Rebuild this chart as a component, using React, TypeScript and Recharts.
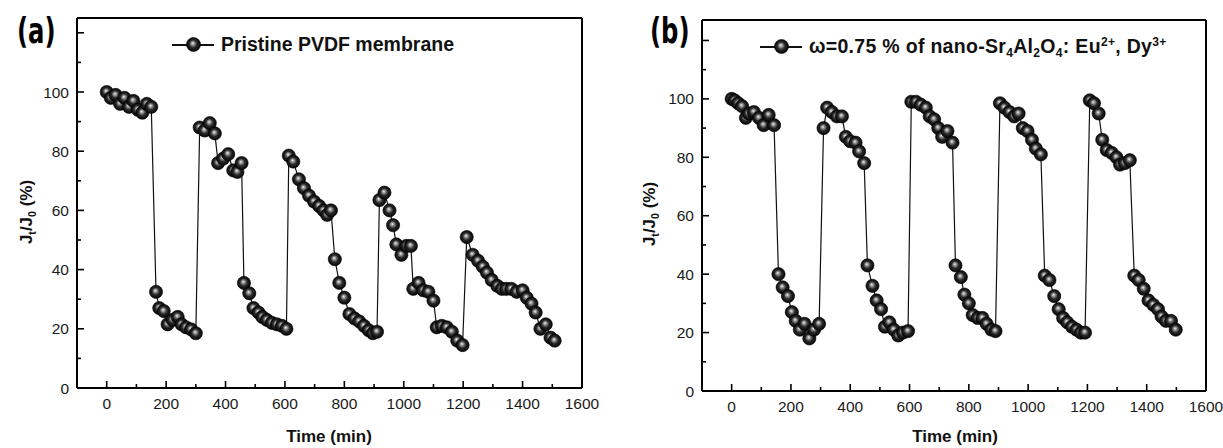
import { Line, LineChart, ReferenceLine, XAxis, YAxis } from "recharts";

// (a) pristine PVDF membrane
const timeA = [
  0, 14, 30, 45, 60, 75, 90, 105, 120, 135, 150,
  166, 177, 192, 205, 222, 239, 252, 267, 284, 300,
  313, 330, 347, 364, 375, 392, 409, 426, 440, 454,
  462, 480, 494, 511, 524, 539, 556, 573, 590, 605,
  613, 628, 647, 664, 681, 698, 715, 730, 742, 755,
  768, 783, 800, 817, 834, 850, 866, 882, 896, 910,
  918, 935, 952, 964, 975, 992, 1009, 1024,
  1032, 1050, 1066, 1083, 1100, 1111, 1128, 1145, 1162, 1180, 1198,
  1212, 1232, 1250, 1266, 1280, 1296, 1315, 1330, 1345, 1362, 1380, 1400, 1414, 1430, 1444, 1460, 1478, 1494, 1508,
];
const fluxA = [
  100, 98, 99, 96, 98, 95, 97, 94, 93, 96, 95,
  32.5, 27, 26, 21.5, 23, 24, 21.5, 20.5, 19.8, 18.5,
  88, 87, 89.5, 86, 76, 77.5, 79, 73.5, 73, 76,
  35.5, 32, 27, 25.5, 24, 23, 22, 21.5, 21, 20,
  78.5, 76.5, 70.5, 67.5, 65, 63, 61.5, 60, 58.5, 60,
  43.5, 35.5, 30.5, 25, 23.5, 22.5, 21, 19.5, 18.5, 19,
  63.5, 66, 60, 55, 48.5, 45, 48, 48,
  33.5, 35.5, 33, 32.5, 29.5, 20.5, 21, 20.5, 19, 16, 14.5,
  51, 45, 43, 41, 39, 36.5, 34.5, 33.5, 33.5, 33.5, 32.5, 33, 30.5, 28.5, 25.5, 20, 21.5, 17, 16,
];

// (b) ω=0.75 % nano-Sr4Al2O4: Eu2+, Dy3+
const timeB = [
  0, 10, 22, 35, 48, 58, 75, 92, 108, 125, 143,
  158, 172, 190, 203, 216, 230, 246, 262, 278, 295,
  310, 322, 338, 355, 372, 385, 400, 418, 430, 447,
  458, 475, 489, 504, 517, 532, 547, 562, 578, 595,
  606, 622, 638, 655, 668, 683, 697, 710, 728, 745,
  755, 773, 785, 800, 813, 830, 846, 860, 876, 890,
  905, 920, 937, 953, 968, 982, 998, 1013, 1026, 1043,
  1056, 1072, 1088, 1103, 1118, 1132, 1148, 1163, 1178, 1192,
  1208, 1222, 1238, 1250, 1265, 1282, 1298, 1310, 1326, 1343,
  1358, 1373, 1390, 1406, 1422, 1438, 1450, 1465, 1482, 1498,
];
const fluxB = [
  100, 99.5, 98.5, 97.5, 93.5, 95, 95.5, 93.5, 91, 94.5, 91,
  40, 35.5, 32.5, 27, 24, 21, 23, 18, 21, 23,
  90, 97, 95.5, 94, 94, 87, 85.5, 85, 82, 78,
  43, 36, 31, 28, 22, 23.5, 21, 19, 20, 20.5,
  99, 99, 98, 97, 94, 93, 90, 87, 89, 85,
  43, 39, 33, 30, 26, 25, 25, 23, 21, 20.5,
  98.5, 97, 95.5, 94, 95, 90, 89, 86, 83, 81,
  39.5, 38, 32.5, 28, 25, 23.5, 22, 21, 20, 20,
  99.5, 98.5, 95, 86, 82.5, 81.5, 80, 77.5, 78, 79,
  39.5, 38, 35, 31, 29.5, 28, 25.5, 24, 24, 21,
];

const xTicks = [0, 100, 200, 300, 400, 500, 600, 700, 800, 900, 1000, 1100, 1200, 1300, 1400, 1500, 1600];
const yTicks = [0, 10, 20, 30, 40, 50, 60, 70, 80, 90, 100, 110, 120];

const FONT = "'Liberation Sans', Arial, Helvetica, sans-serif";

function XTick(props: any) {
  const { x, y, payload } = props;
  const major = payload.value % 200 === 0;
  return (
    <g>
      <line x1={x} x2={x} y1={y} y2={y - (major ? 7 : 4)} stroke="#000" strokeWidth={1.6} />
      {major && (
        <text x={x} y={y + 21} textAnchor="middle" fontSize={15.5} fontFamily={FONT} fill="#1a1a1a">
          {payload.value}
        </text>
      )}
    </g>
  );
}

function YTick(props: any) {
  const { x, y, payload } = props;
  const major = payload.value % 20 === 0;
  return (
    <g>
      <line x1={x} x2={x + (major ? 7 : 4)} y1={y} y2={y} stroke="#000" strokeWidth={1.6} />
      {major && payload.value <= 100 && (
        <text x={x - 8} y={y} dy="0.36em" textAnchor="end" fontSize={15.5} fontFamily={FONT} fill="#1a1a1a">
          {payload.value}
        </text>
      )}
    </g>
  );
}

function Ball({ size }: { size: number }) {
  return (
    <svg width={size} height={size} style={{ display: "block" }}>
      <defs>
        <radialGradient id="ball-legend" cx="50%" cy="50%" r="50%" fx="44%" fy="40%">
          <stop offset="0%" stopColor="#f2f2f2" />
          <stop offset="22%" stopColor="#9a9a9a" />
          <stop offset="55%" stopColor="#2a2a2a" />
          <stop offset="100%" stopColor="#050505" />
        </radialGradient>
      </defs>
      <circle cx={size / 2} cy={size / 2} r={size / 2 - 0.5} fill="url(#ball-legend)" stroke="#000" strokeWidth={0.6} />
    </svg>
  );
}

type Margin = { top: number; right: number; bottom: number; left: number };

function Panel({ id, time, flux, left, width, yMax, margin }: { id: string; time: number[]; flux: number[]; left: number; width: number; yMax: number; margin: Margin }) {
  const rows = time.map((t, i) => ({ t, v: flux[i] }));
  return (
    <div style={{ position: "absolute", left, top: 0 }}>
      <LineChart width={width} height={448} data={rows} margin={margin}>
        <defs>
          <radialGradient id={`ball-${id}`} cx="50%" cy="50%" r="50%" fx="44%" fy="40%">
            <stop offset="0%" stopColor="#f2f2f2" />
            <stop offset="22%" stopColor="#9a9a9a" />
            <stop offset="55%" stopColor="#2a2a2a" />
            <stop offset="100%" stopColor="#050505" />
          </radialGradient>
        </defs>
        <XAxis
          type="number"
          dataKey="t"
          domain={[-100, 1600]}
          ticks={xTicks}
          interval={0}
          tickSize={0}
          tickMargin={0}
          tickLine={false}
          tick={XTick}
          height={40}
          axisLine={{ stroke: "#000", strokeWidth: 2 }}
          allowDataOverflow
        />
        <YAxis
          type="number"
          domain={[0, yMax]}
          ticks={yTicks}
          interval={0}
          tickSize={0}
          tickMargin={0}
          tickLine={false}
          tick={YTick}
          width={60}
          axisLine={{ stroke: "#000", strokeWidth: 2 }}
          allowDataOverflow
        />
        <ReferenceLine y={yMax} stroke="#000" strokeWidth={2} />
        <ReferenceLine x={1600} stroke="#000" strokeWidth={2} />
        <Line
          type="linear"
          dataKey="v"
          stroke="#111"
          strokeWidth={1.2}
          isAnimationActive={false}
          activeDot={false}
          dot={(p: any) => (
            <circle key={`d-${p.index}`} cx={p.cx} cy={p.cy} r={6.6} fill={`url(#ball-${id})`} stroke="#000" strokeWidth={0.6} />
          )}
        />
      </LineChart>
    </div>
  );
}

const abs = (l: number, t: number): React.CSSProperties => ({ position: "absolute", left: l, top: t, whiteSpace: "nowrap" });
const sub: React.CSSProperties = { fontSize: "0.62em", verticalAlign: "-0.35em", lineHeight: 0 };
const sup: React.CSSProperties = { fontSize: "0.62em", verticalAlign: "0.6em", lineHeight: 0 };

function LegendKey({ x, y, size, text }: { x: number; y: number; size: number; text: React.ReactNode }) {
  return (
    <div style={{ ...abs(x, y), display: "flex", alignItems: "center", fontWeight: "bold", fontSize: size, color: "#111" }}>
      <div style={{ position: "relative", width: 42, height: 15 }}>
        <div style={{ position: "absolute", left: 0, right: 0, top: 6.5, height: 2, background: "#111" }} />
        <div style={{ position: "absolute", left: 13.5, top: 0 }}>
          <Ball size={15} />
        </div>
      </div>
      <span style={{ marginLeft: 7 }}>{text}</span>
    </div>
  );
}

function YTitle({ x, y }: { x: number; y: number }) {
  return (
    <div style={{ ...abs(x, y), transform: "translate(-50%, -50%) rotate(-90deg)", fontWeight: "bold", fontSize: 17, color: "#111" }}>
      J<span style={sub}>t</span>/J<span style={sub}>0</span> (%)
    </div>
  );
}

function XTitle({ x, y }: { x: number; y: number }) {
  return (
    <div style={{ ...abs(x, y), transform: "translate(-50%, -50%)", fontWeight: "bold", fontSize: 17, color: "#111" }}>
      Time (min)
    </div>
  );
}

const panelLabel: React.CSSProperties = {
  fontFamily: "'DejaVu Sans Condensed', 'Liberation Sans Narrow', sans-serif",
  fontWeight: "bold",
  fontSize: 30,
  color: "#000",
  lineHeight: 1,
  transform: "scale(0.9, 1.2)",
  transformOrigin: "top left",
};

export default function App() {
  return (
    <div style={{ position: "absolute", left: 0, top: 0, width: 1223, height: 448, background: "#fff", overflow: "hidden", fontFamily: FONT }}>
      <Panel id="a" time={timeA} flux={fluxA} left={0} width={610} yMax={125} margin={{ top: 18, right: 28, bottom: 20, left: 17 }} />
      <Panel id="b" time={timeB} flux={fluxB} left={610} width={613} yMax={127} margin={{ top: 20, right: 17, bottom: 17, left: 32 }} />

      <div style={{ ...abs(17, 13), ...panelLabel }}>(a)</div>
      <div style={{ ...abs(650, 13), ...panelLabel }}>(b)</div>

      <LegendKey x={172} y={33} size={19.5} text="Pristine PVDF membrane" />
      <LegendKey
        x={760}
        y={35}
        size={19.5}
        text={
          <span style={{ letterSpacing: 0.3 }}>
            ω=0.75 % of nano-Sr<span style={sub}>4</span>Al<span style={sub}>2</span>O<span style={sub}>4</span>: Eu
            <span style={sup}>2+</span>, Dy<span style={sup}>3+</span>
          </span>
        }
      />

      <YTitle x={27} y={212} />
      <YTitle x={650} y={214} />
      <XTitle x={329} y={437} />
      <XTitle x={955} y={437} />
    </div>
  );
}
